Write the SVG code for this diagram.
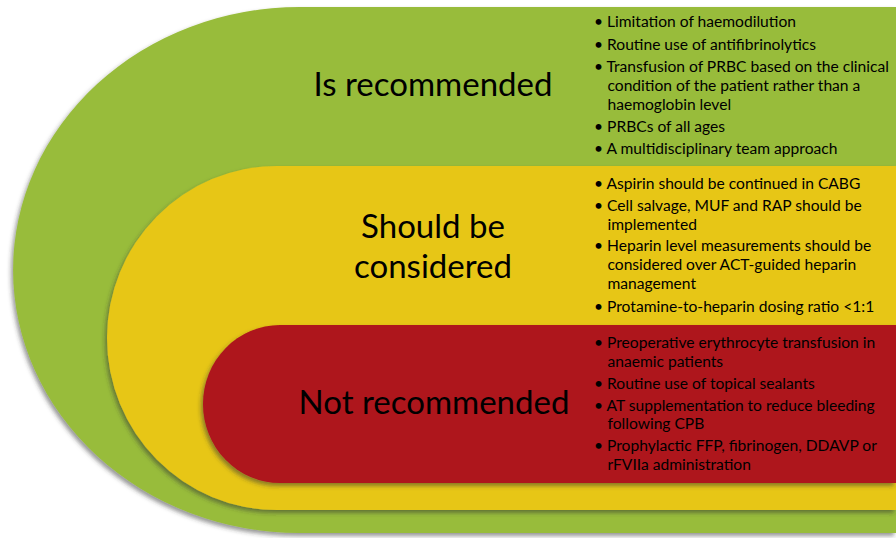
<svg xmlns="http://www.w3.org/2000/svg" width="896" height="538" viewBox="0 0 896 538">
<defs>
<filter id="sh" x="-10%" y="-10%" width="120%" height="125%">
<feDropShadow dx="-2" dy="3" stdDeviation="2" flood-color="#333" flood-opacity="0.5"/>
</filter>
<style>
.t{font-family:Lato,"Open Sans","Liberation Sans",sans-serif;fill:#000}
.h{font-size:33px;text-anchor:middle}
.b{font-size:15.6px}
</style>
</defs>
<rect width="896" height="538" fill="#fff"/>
<g id="green">
<path d="M896,7 H300 A287 263 0 0 0 300,533 H896 Z" fill="#98bc3b" filter="url(#sh)"/>
<text class="t h" x="433" y="96">Is recommended</text>
<g class="t b">
<text x="594" y="27">• Limitation of haemodilution</text>
<text x="594" y="50">• Routine use of antifibrinolytics</text>
<text x="594" y="72">• Transfusion of PRBC based on the clinical</text>
<text x="607.5" y="91">condition of the patient rather than a</text>
<text x="607.5" y="110">haemoglobin level</text>
<text x="594" y="132">• PRBCs of all ages</text>
<text x="594" y="154">• A multidisciplinary team approach</text>
</g>
</g>
<g id="yellow">
<path d="M896,166 H277 A170 172 0 0 0 277,510 H896 Z" fill="#e7c617" filter="url(#sh)"/>
<text class="t h" x="433" y="238">Should be</text>
<text class="t h" x="433" y="278">considered</text>
<g class="t b">
<text x="594" y="189">• Aspirin should be continued in CABG</text>
<text x="594" y="211">• Cell salvage, MUF and RAP should be</text>
<text x="607.5" y="230">implemented</text>
<text x="594" y="251">• Heparin level measurements should be</text>
<text x="607.5" y="270">considered over ACT-guided heparin</text>
<text x="607.5" y="289">management</text>
<text x="594" y="312">• Protamine-to-heparin dosing ratio &lt;1:1</text>
</g>
</g>
<g id="red">
<path d="M896,325 H280 A77 79 0 0 0 280,483 H896 Z" fill="#ae141c" filter="url(#sh)"/>
<text class="t h" x="434" y="414">Not recommended</text>
<g class="t b">
<text x="594" y="348">• Preoperative erythrocyte transfusion in</text>
<text x="607.5" y="367">anaemic patients</text>
<text x="594" y="389">• Routine use of topical sealants</text>
<text x="594" y="411">• AT supplementation to reduce bleeding</text>
<text x="607.5" y="429">following CPB</text>
<text x="594" y="451">• Prophylactic FFP, fibrinogen, DDAVP or</text>
<text x="607.5" y="470">rFVIIa administration</text>
</g>
</g>
<g id="connectors"/>
</svg>
